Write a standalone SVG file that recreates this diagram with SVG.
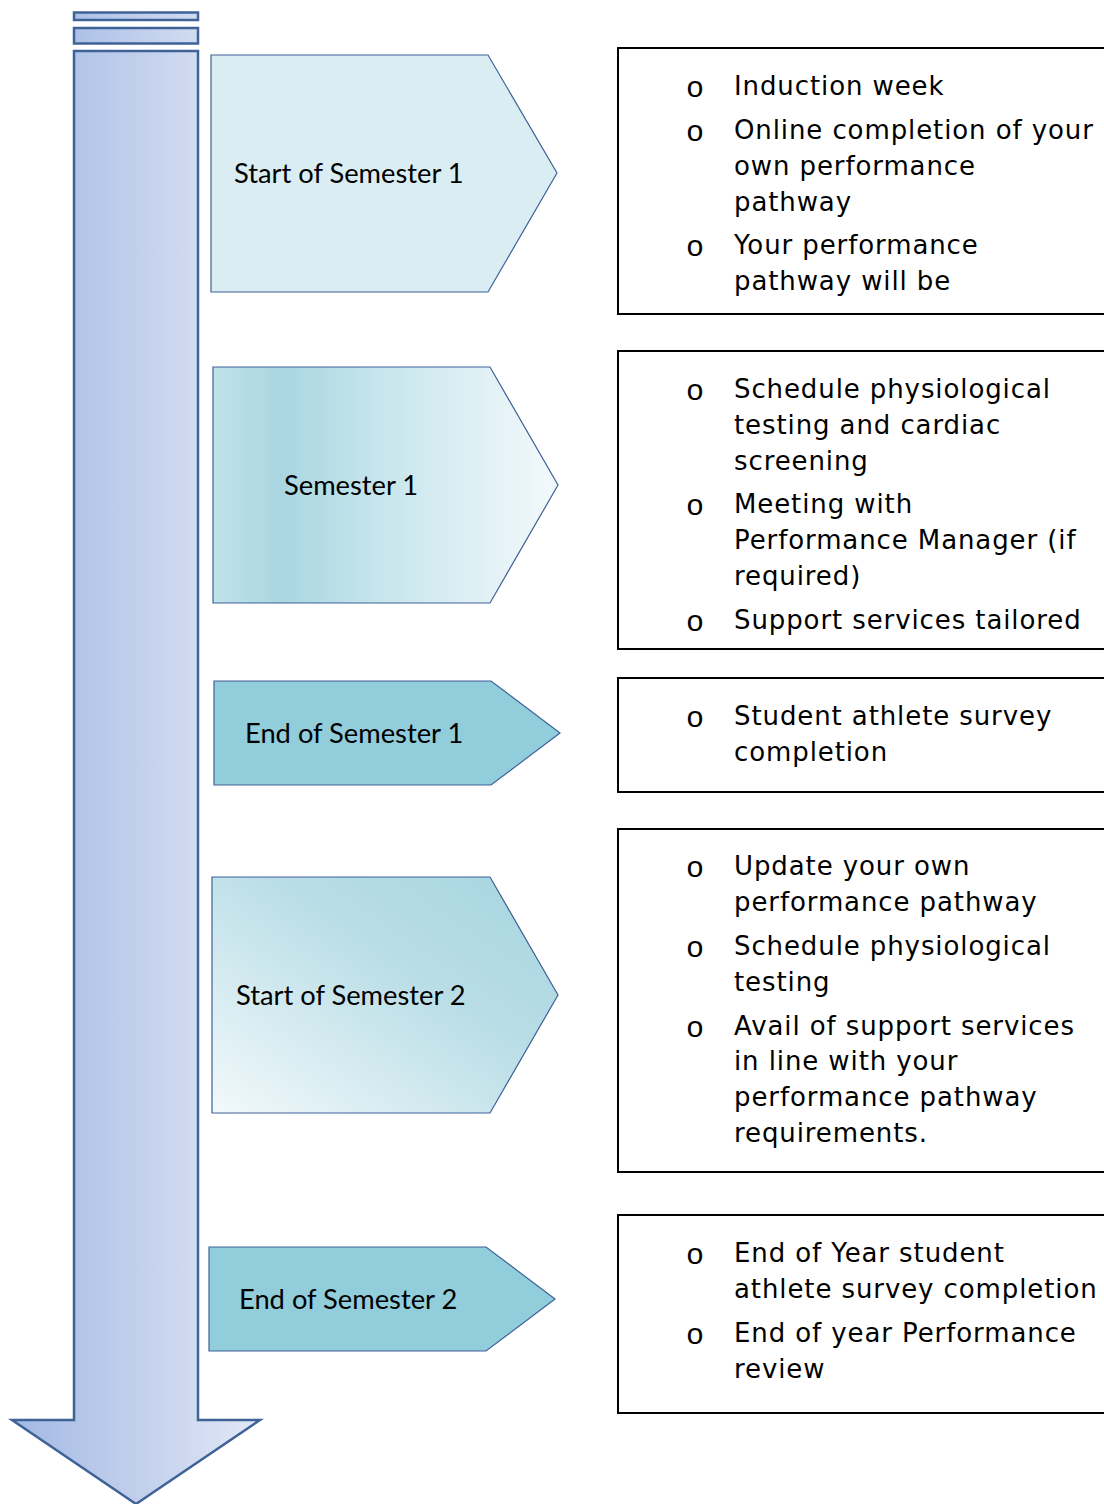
<svg xmlns="http://www.w3.org/2000/svg" width="1104" height="1504" viewBox="0 0 1104 1504">
<defs>
<linearGradient id="gArrow" x1="0" y1="0" x2="1" y2="0">
<stop offset="0" stop-color="#a3b9e4"/>
<stop offset="0.5" stop-color="#c1cfec"/>
<stop offset="1" stop-color="#e3e9f6"/>
</linearGradient>
<linearGradient id="gShaft" x1="74" y1="0" x2="198" y2="0" gradientUnits="userSpaceOnUse">
<stop offset="0" stop-color="#acc0e7"/>
<stop offset="0.5" stop-color="#c0ceec"/>
<stop offset="1" stop-color="#d1dcf1"/>
</linearGradient>
<linearGradient id="gSem1" x1="0" y1="0" x2="1" y2="0">
<stop offset="0" stop-color="#c0e2ea"/>
<stop offset="0.2" stop-color="#a9d6e1"/>
<stop offset="0.5" stop-color="#c8e6ed"/>
<stop offset="1" stop-color="#f3f9fb"/>
</linearGradient>
<linearGradient id="gSem2" x1="0" y1="1" x2="1" y2="0">
<stop offset="0" stop-color="#f2f9fb"/>
<stop offset="0.6" stop-color="#b8dde6"/>
<stop offset="1" stop-color="#a6d5e0"/>
</linearGradient>
<style>
.chev{stroke:#3f6297;stroke-width:1.2}
.lab{font-family:Lato,"Liberation Sans",sans-serif;font-size:27.3px;fill:#000}
.box{fill:#fff;stroke:#000;stroke-width:2}
.txt{font-family:"DejaVu Sans",Verdana,sans-serif;font-size:26px;letter-spacing:0.9px;fill:#000}
.bul{font-family:"Liberation Mono",monospace;font-size:30px;fill:#000}
</style>
</defs>

<g id="timeline-arrow">
<rect x="74" y="12.5" width="124" height="7.5" fill="url(#gShaft)" stroke="#3f6297" stroke-width="2.5"/>
<rect x="74" y="28" width="124" height="15.5" fill="url(#gShaft)" stroke="#3f6297" stroke-width="2.5"/>
<path d="M74,51 L198,51 L198,1420 L260,1420 L136,1504 L12,1420 L74,1420 Z" fill="url(#gArrow)" stroke="#3f6297" stroke-width="2.5"/>
</g>

<g id="node-start-sem1">
<path class="chev" d="M211,55 L488,55 L557,173 L488,292 L211,292 Z" fill="#daedf3"/>
<text class="lab" x="234" y="183">Start of Semester 1</text>
</g>
<g id="node-sem1">
<path class="chev" d="M213,367 L490,367 L558,485 L490,603 L213,603 Z" fill="url(#gSem1)"/>
<text class="lab" x="284" y="495">Semester 1</text>
</g>
<g id="node-end-sem1">
<path class="chev" d="M214,681 L491,681 L560,733 L491,785 L214,785 Z" fill="#92cddc"/>
<text class="lab" x="245" y="743">End of Semester 1</text>
</g>
<g id="node-start-sem2">
<path class="chev" d="M212,877 L490,877 L558,995 L490,1113 L212,1113 Z" fill="url(#gSem2)"/>
<text class="lab" x="236" y="1005">Start of Semester 2</text>
</g>
<g id="node-end-sem2">
<path class="chev" d="M209,1247 L486,1247 L555,1299 L486,1351 L209,1351 Z" fill="#92cddc"/>
<text class="lab" x="239" y="1309">End of Semester 2</text>
</g>

<g id="box-1">
<rect class="box" x="618" y="48" width="500" height="266"/>
<text class="bul" x="686" y="97">o</text>
<text class="txt" x="734" y="95">Induction week</text>
<text class="bul" x="686" y="141">o</text>
<text class="txt" x="734" y="139">Online completion of your</text>
<text class="txt" x="734" y="175">own performance</text>
<text class="txt" x="734" y="211">pathway</text>
<text class="bul" x="686" y="256">o</text>
<text class="txt" x="734" y="254">Your performance</text>
<text class="txt" x="734" y="290">pathway will be</text>
</g>

<g id="box-2">
<rect class="box" x="618" y="351" width="500" height="298"/>
<text class="bul" x="686" y="400">o</text>
<text class="txt" x="734" y="398">Schedule physiological</text>
<text class="txt" x="734" y="434">testing and cardiac</text>
<text class="txt" x="734" y="470">screening</text>
<text class="bul" x="686" y="515">o</text>
<text class="txt" x="734" y="513">Meeting with</text>
<text class="txt" x="734" y="549">Performance Manager (if</text>
<text class="txt" x="734" y="585">required)</text>
<text class="bul" x="686" y="631">o</text>
<text class="txt" x="734" y="629">Support services tailored</text>
</g>

<g id="box-3">
<rect class="box" x="618" y="678" width="500" height="114"/>
<text class="bul" x="686" y="727">o</text>
<text class="txt" x="734" y="725">Student athlete survey</text>
<text class="txt" x="734" y="761">completion</text>
</g>

<g id="box-4">
<rect class="box" x="618" y="829" width="500" height="343"/>
<text class="bul" x="686" y="877">o</text>
<text class="txt" x="734" y="875">Update your own</text>
<text class="txt" x="734" y="911">performance pathway</text>
<text class="bul" x="686" y="957">o</text>
<text class="txt" x="734" y="955">Schedule physiological</text>
<text class="txt" x="734" y="991">testing</text>
<text class="bul" x="686" y="1037">o</text>
<text class="txt" x="734" y="1035">Avail of support services</text>
<text class="txt" x="734" y="1070">in line with your</text>
<text class="txt" x="734" y="1106">performance pathway</text>
<text class="txt" x="734" y="1142">requirements.</text>
</g>

<g id="box-5">
<rect class="box" x="618" y="1215" width="500" height="198"/>
<text class="bul" x="686" y="1264">o</text>
<text class="txt" x="734" y="1262">End of Year student</text>
<text class="txt" x="734" y="1298">athlete survey completion</text>
<text class="bul" x="686" y="1344">o</text>
<text class="txt" x="734" y="1342">End of year Performance</text>
<text class="txt" x="734" y="1378">review</text>
</g>

<g id="connectors"></g>
</svg>
